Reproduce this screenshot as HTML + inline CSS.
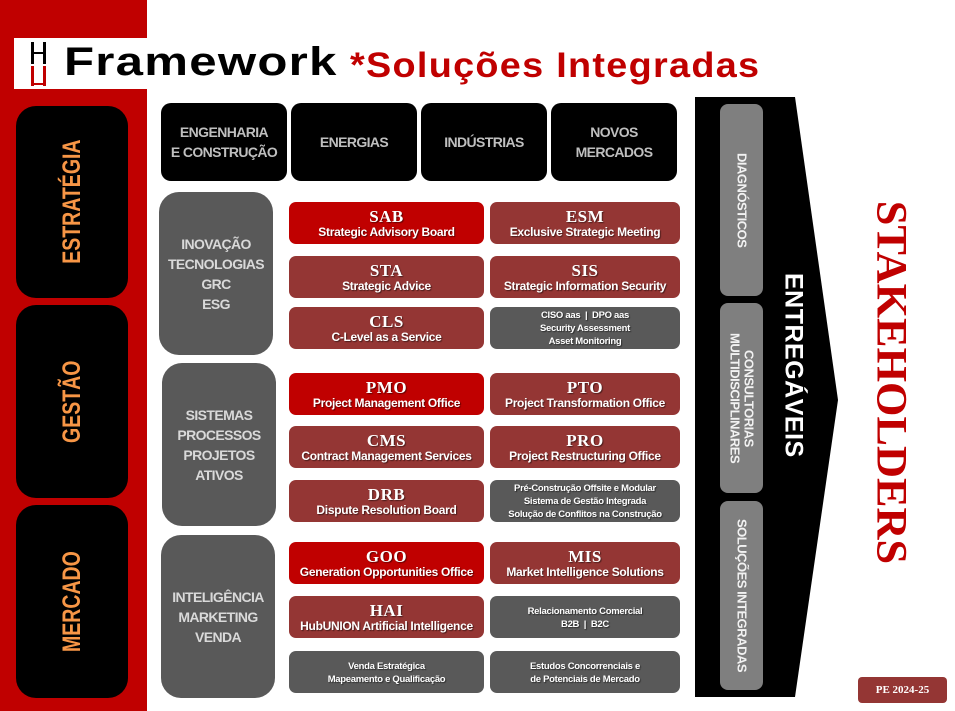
<!DOCTYPE html>
<html><head><meta charset="utf-8"><style>
*{margin:0;padding:0;box-sizing:border-box}
body{width:955px;height:711px;position:relative;background:#fff;overflow:hidden;font-family:"Liberation Sans",sans-serif}
.a{position:absolute}
.flex{display:flex;align-items:center;justify-content:center;text-align:center}
.lb{background:#000;border-radius:20px;left:16px;width:112px}
.lbt{writing-mode:vertical-rl;transform:rotate(180deg) scaleY(0.78);color:#f79646;font-weight:bold;font-size:25px;letter-spacing:0px}
.hd{background:#000;border-radius:10px;top:103px;height:78px;width:126px;color:#bfbfbf;font-weight:bold;font-size:14px;line-height:20px;letter-spacing:-0.6px}
.grp{background:#595959;border-radius:20px;width:114px;color:#d9d9d9;font-weight:bold;font-size:14px;line-height:20px;letter-spacing:-0.6px}
.c{border-radius:7px;height:42px;color:#fff;flex-direction:column;line-height:1;text-shadow:1px 1px 1px rgba(0,0,0,.5)}
.c b{font-family:"Liberation Serif",serif;font-weight:900;font-size:17px;letter-spacing:0.5px}
.c span{font-weight:bold;font-size:12px;letter-spacing:-0.3px;margin-top:1px}
.c1{left:289px;width:195px}.c2{left:490px;width:190px}
.r{background:#c00000}.d{background:#943634}.g{background:#595959}
.g span{font-size:9.5px;line-height:13px;letter-spacing:-0.3px}
.rb{background:#7f7f7f;border-radius:8px;left:720px;width:43px;color:#f2f2f2;font-weight:bold;font-size:13px;line-height:14px;letter-spacing:-0.5px}
.rb div{writing-mode:vertical-rl}
</style></head><body>
<div class="a" style="left:0;top:0;width:147px;height:711px;background:#c00000"></div>
<div class="a" style="left:14px;top:38px;width:133px;height:51px;background:#fff"></div>
<div class="a" style="left:31px;top:42px;width:3px;height:22px;background:#000"></div>
<div class="a" style="left:43px;top:42px;width:3px;height:22px;background:#000"></div>
<div class="a" style="left:31px;top:52px;width:15px;height:2px;background:#000"></div>
<div class="a" style="left:31px;top:66px;width:3px;height:20px;background:#c00000"></div>
<div class="a" style="left:43px;top:66px;width:3px;height:20px;background:#c00000"></div>
<div class="a" style="left:31px;top:83px;width:15px;height:2px;background:#c00000"></div>
<div class="a" style="left:64px;top:40px;font-size:40px;font-weight:bold;color:#000;transform-origin:0 0;transform:scaleX(1.23);letter-spacing:1px;white-space:nowrap">Framework</div>
<div class="a" style="left:350px;top:46px;font-size:35px;font-weight:bold;color:#c00000;transform-origin:0 0;transform:scaleX(1.08);letter-spacing:1.2px;white-space:nowrap">*Soluções Integradas</div>

<div class="a lb flex" style="top:106px;height:192px"><div class="lbt">ESTRATÉGIA</div></div>
<div class="a lb flex" style="top:305px;height:193px"><div class="lbt">GESTÃO</div></div>
<div class="a lb flex" style="top:505px;height:193px"><div class="lbt">MERCADO</div></div>

<div class="a hd flex" style="left:161px">ENGENHARIA<br>E CONSTRUÇÃO</div>
<div class="a hd flex" style="left:291px">ENERGIAS</div>
<div class="a hd flex" style="left:421px">INDÚSTRIAS</div>
<div class="a hd flex" style="left:551px">NOVOS<br>MERCADOS</div>

<div class="a grp flex" style="left:159px;top:192px;height:163px">INOVAÇÃO<br>TECNOLOGIAS<br>GRC<br>ESG</div>
<div class="a grp flex" style="left:162px;top:363px;height:163px">SISTEMAS<br>PROCESSOS<br>PROJETOS<br>ATIVOS</div>
<div class="a grp flex" style="left:161px;top:535px;height:163px">INTELIGÊNCIA<br>MARKETING<br>VENDA</div>

<div class="a c c1 r flex" style="top:202px"><b>SAB</b><span>Strategic Advisory Board</span></div>
<div class="a c c2 d flex" style="top:202px"><b>ESM</b><span>Exclusive Strategic Meeting</span></div>
<div class="a c c1 d flex" style="top:256px"><b>STA</b><span>Strategic Advice</span></div>
<div class="a c c2 d flex" style="top:256px"><b>SIS</b><span>Strategic Information Security</span></div>
<div class="a c c1 d flex" style="top:307px"><b>CLS</b><span>C-Level as a Service</span></div>
<div class="a c c2 g flex" style="top:307px"><span>CISO aas &nbsp;|&nbsp; DPO aas<br>Security Assessment<br>Asset Monitoring</span></div>

<div class="a c c1 r flex" style="top:373px"><b>PMO</b><span>Project Management Office</span></div>
<div class="a c c2 d flex" style="top:373px"><b>PTO</b><span>Project Transformation Office</span></div>
<div class="a c c1 d flex" style="top:426px"><b>CMS</b><span>Contract Management Services</span></div>
<div class="a c c2 d flex" style="top:426px"><b>PRO</b><span>Project Restructuring Office</span></div>
<div class="a c c1 d flex" style="top:480px"><b>DRB</b><span>Dispute Resolution Board</span></div>
<div class="a c c2 g flex" style="top:480px"><span>Pré-Construção Offsite e Modular<br>Sistema de Gestão Integrada<br>Solução de Conflitos na Construção</span></div>

<div class="a c c1 r flex" style="top:542px"><b>GOO</b><span>Generation Opportunities Office</span></div>
<div class="a c c2 d flex" style="top:542px"><b>MIS</b><span>Market Intelligence Solutions</span></div>
<div class="a c c1 d flex" style="top:596px"><b>HAI</b><span>HubUNION Artificial Intelligence</span></div>
<div class="a c c2 g flex" style="top:596px"><span>Relacionamento Comercial<br>B2B &nbsp;|&nbsp; B2C</span></div>
<div class="a c c1 g flex" style="top:651px"><span>Venda Estratégica<br>Mapeamento e Qualificação</span></div>
<div class="a c c2 g flex" style="top:651px"><span>Estudos Concorrenciais e<br>de Potenciais de Mercado</span></div>

<svg class="a" style="left:0;top:0" width="955" height="711"><polygon points="695,97 795,97 838,400 795,697 695,697" fill="#000"/></svg>
<div class="a rb flex" style="top:104px;height:192px"><div>DIAGNÓSTICOS</div></div>
<div class="a rb flex" style="top:303px;height:190px"><div>CONSULTORIAS<br>MULTIDISCIPLINARES</div></div>
<div class="a rb flex" style="top:501px;height:189px"><div>SOLUÇÕES INTEGRADAS</div></div>
<div class="a flex" style="left:775px;top:250px;width:36px;height:230px"><div style="writing-mode:vertical-rl;color:#fff;font-weight:bold;font-size:25px;letter-spacing:0.5px">ENTREGÁVEIS</div></div>
<div class="a flex" style="left:866px;top:195px;width:50px;height:375px"><div style="writing-mode:vertical-rl;color:#c00000;font-family:'Liberation Serif',serif;font-weight:bold;font-size:43px;transform:scaleY(1.03)">STAKEHOLDERS</div></div>
<div class="a flex" style="left:858px;top:677px;width:89px;height:26px;background:#943634;border-radius:4px;color:#fff;font-family:'Liberation Serif',serif;font-weight:bold;font-size:11px">PE 2024-25</div>
</body></html>
